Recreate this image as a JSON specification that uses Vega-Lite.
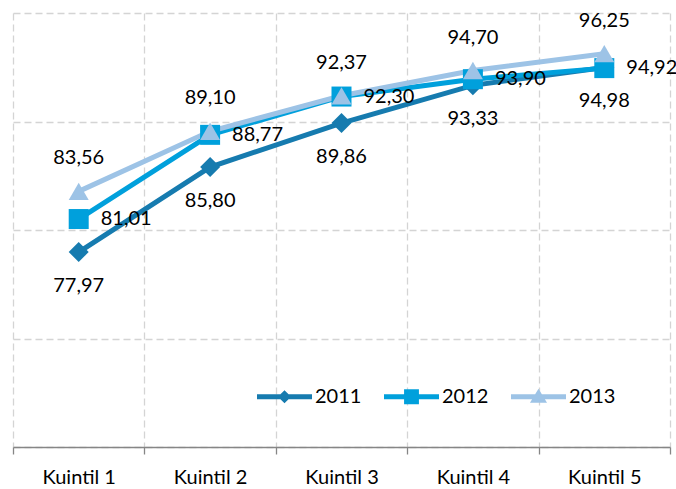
{
  "$schema": "https://vega.github.io/schema/vega-lite/v6.json",
  "width": 657,
  "height": 434,
  "autosize": {"type": "none"},
  "padding": {"left": 13, "top": 13, "right": 6, "bottom": 42},
  "background": "white",
  "config": {
    "view": {"stroke": null},
    "font": "Lato",
    "locale": {"number": {"decimal": ",", "thousands": ".", "grouping": [3], "currency": ["", ""]}}
  },
  "data": {"values": [
    {"q": "Kuintil 1", "year": "2011", "v": 77.97},
    {"q": "Kuintil 2", "year": "2011", "v": 85.80},
    {"q": "Kuintil 3", "year": "2011", "v": 89.86},
    {"q": "Kuintil 4", "year": "2011", "v": 93.33},
    {"q": "Kuintil 5", "year": "2011", "v": 94.98},
    {"q": "Kuintil 1", "year": "2012", "v": 81.01},
    {"q": "Kuintil 2", "year": "2012", "v": 88.77},
    {"q": "Kuintil 3", "year": "2012", "v": 92.30},
    {"q": "Kuintil 4", "year": "2012", "v": 93.90},
    {"q": "Kuintil 5", "year": "2012", "v": 94.92},
    {"q": "Kuintil 1", "year": "2013", "v": 83.56},
    {"q": "Kuintil 2", "year": "2013", "v": 89.10},
    {"q": "Kuintil 3", "year": "2013", "v": 92.37},
    {"q": "Kuintil 4", "year": "2013", "v": 94.70},
    {"q": "Kuintil 5", "year": "2013", "v": 96.25}
  ]},
  "encoding": {
    "x": {
      "field": "q", "type": "nominal", "title": null,
      "scale": {"type": "band", "paddingInner": 0, "paddingOuter": 0},
      "axis": {
        "tickBand": "extent", "labelAngle": 0, "labelFontSize": 20, "labelColor": "#000000",
        "labelPadding": 13, "tickSize": 7, "tickColor": "#868686", "tickWidth": 1.3,
        "domainColor": "#868686", "domainWidth": 1.3,
        "grid": true, "gridColor": "#D4D4D4", "gridDash": [7, 4], "gridWidth": 1.3
      }
    },
    "y": {
      "field": "v", "type": "quantitative", "title": null,
      "scale": {"domain": [60, 100], "nice": false, "zero": false},
      "axis": {
        "values": [60, 70, 80, 90, 100], "labels": false, "ticks": false, "domain": false,
        "grid": true, "gridColor": "#D4D4D4", "gridDash": [7, 4], "gridWidth": 1.3
      }
    }
  },
  "layer": [
    {
      "mark": {"type": "line", "strokeWidth": 5},
      "encoding": {
        "color": {
          "field": "year", "type": "nominal",
          "scale": {"domain": ["2011", "2012", "2013"], "range": ["#167BAF", "#00A0DC", "#9DC3E6"]},
          "legend": {
            "title": null, "orient": "none", "direction": "horizontal",
            "legendX": 244, "legendY": 356, "padding": 0,
            "symbolSize": 3025, "symbolStrokeWidth": 0,
            "labelFontSize": 20, "labelColor": "#000000", "labelOffset": 3, "columnPadding": 22,
            "encode": {"symbols": {"update": {
              "shape": {"signal": "datum.value == '2011' ? 'M-1,-0.09H1V0.09H-1Z M0,-0.24L0.24,0L0,0.24L-0.24,0Z' : datum.value == '2012' ? 'M-1,-0.09H1V0.09H-1Z M-0.27,-0.27H0.27V0.27H-0.27Z' : 'M-1,-0.09H1V0.09H-1Z M0,-0.29L0.31,0.22L-0.31,0.22Z'"},
              "fill": {"scale": "color", "field": "value"},
              "fillOpacity": {"value": 1},
              "strokeWidth": {"value": 0}
            }}}
          }
        }
      }
    },
    {
      "transform": [{"filter": "datum.year == '2011'"}],
      "mark": {"type": "point", "filled": true, "opacity": 1, "size": 400, "shape": "diamond"},
      "encoding": {"color": {"field": "year", "type": "nominal"}}
    },
    {
      "transform": [{"filter": "datum.year == '2012'"}],
      "mark": {"type": "point", "filled": true, "opacity": 1, "size": 400, "shape": "square"},
      "encoding": {"color": {"field": "year", "type": "nominal"}}
    },
    {
      "transform": [{"filter": "datum.year == '2013'"}],
      "mark": {"type": "point", "filled": true, "opacity": 1, "size": 400, "shape": "triangle-up"},
      "encoding": {"color": {"field": "year", "type": "nominal"}}
    },
    {
      "transform": [{"filter": "datum.year == '2011'"}],
      "mark": {"type": "text", "fontSize": 20, "dy": 34, "baseline": "middle", "color": "#000000"},
      "encoding": {"text": {"field": "v", "type": "quantitative", "format": ".2f"}}
    },
    {
      "transform": [{"filter": "datum.year == '2012'"}],
      "mark": {"type": "text", "fontSize": 20, "dx": 22, "align": "left", "baseline": "middle", "color": "#000000"},
      "encoding": {"text": {"field": "v", "type": "quantitative", "format": ".2f"}}
    },
    {
      "transform": [{"filter": "datum.year == '2013'"}],
      "mark": {"type": "text", "fontSize": 20, "dy": -33, "baseline": "middle", "color": "#000000"},
      "encoding": {"text": {"field": "v", "type": "quantitative", "format": ".2f"}}
    }
  ]
}
